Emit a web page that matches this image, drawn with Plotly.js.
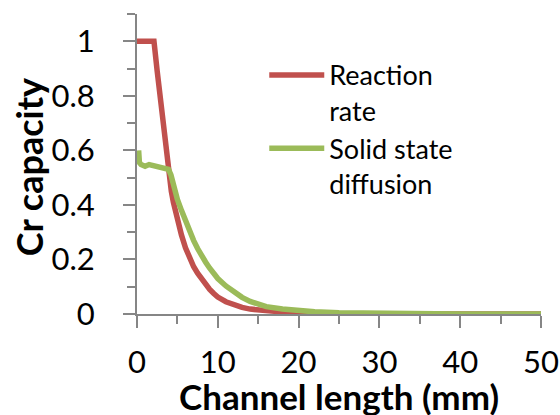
<!DOCTYPE html>
<html>
<head>
<meta charset="utf-8">
<script src="https://cdn.plot.ly/plotly-3.0.1.min.js"></script>
<style>html,body{margin:0;padding:0;background:#fff;}#chart{width:560px;height:415px;}</style>
</head>
<body>
<div id="chart"></div>
<script>
// Reaction rate series
const reactionX = [0, 1, 2.1, 2.5, 3, 3.5, 3.75, 4, 4.25, 4.5, 5, 5.5, 6, 6.5, 7, 7.5, 8, 8.5, 9, 9.5, 10, 11, 12, 13, 14, 16, 18, 20, 22, 25, 30, 35, 40, 45, 50];
const reactionY = [1, 1, 1, 0.89, 0.755, 0.625, 0.56, 0.5, 0.45, 0.41, 0.345, 0.29, 0.243, 0.204, 0.174, 0.15, 0.127, 0.107, 0.09, 0.075, 0.062, 0.045, 0.032, 0.024, 0.018, 0.011, 0.006, 0.002, 0.001, 0, 0, 0, 0, 0, 0];
// Solid state diffusion series
const diffusionX = [0.2, 0.3, 0.5, 1, 1.5, 2, 2.5, 3, 3.5, 3.9, 4.2, 4.4, 4.6, 4.8, 5, 5.5, 6, 6.5, 7, 7.5, 8, 8.5, 9, 9.5, 10, 11, 12, 13, 14, 15, 16, 18, 20, 22, 25, 28, 30, 35, 40, 45, 50];
const diffusionY = [0.6, 0.555, 0.548, 0.542, 0.548, 0.545, 0.54, 0.54, 0.537, 0.53, 0.51, 0.485, 0.462, 0.44, 0.42, 0.38, 0.34, 0.30, 0.27, 0.24, 0.212, 0.19, 0.168, 0.148, 0.13, 0.103, 0.08, 0.061, 0.046, 0.035, 0.027, 0.018, 0.012, 0.008, 0.005, 0.003, 0.002, 0.001, 0, 0, 0];
const seriesNames = ["Reaction<br>rate", "Solid state<br>diffusion"];
const xTitle = "Channel length (mm)";
const yTitle = "Cr capacity";

const FONT = "Lato, 'Open Sans', sans-serif";
const AXC = "#868686";

const traces = [
  {x: reactionX, y: reactionY, name: seriesNames[0], type: "scatter", mode: "lines",
   line: {color: "#C0504D", width: 5.5}},
  {x: diffusionX, y: diffusionY, name: seriesNames[1], type: "scatter", mode: "lines",
   line: {color: "#9BBB59", width: 5.5}}
];

const layout = {
  width: 560, height: 415,
  margin: {l: 137, r: 19, t: 14, b: 101, pad: 0},
  paper_bgcolor: "#fff", plot_bgcolor: "#fff",
  font: {family: FONT, color: "#000"},
  showlegend: true,
  legend: {x: 0.315, xanchor: "left", y: 0.877, yanchor: "top", bgcolor: "rgba(0,0,0,0)",
           font: {family: FONT, size: 27, color: "#000"}, valign: "top", itemwidth: 55, tracegroupgap: 0},
  xaxis: {
    range: [0, 50], dtick: 10, tick0: 0, showgrid: false, zeroline: false,
    showline: true, linecolor: AXC, linewidth: 2,
    ticks: "outside", ticklen: 12, tickwidth: 2, tickcolor: AXC,
    minor: {dtick: 5, ticks: "outside", ticklen: 8, tickwidth: 2, tickcolor: AXC, showgrid: false},
    tickfont: {family: FONT, size: 31, color: "#000"}, ticklabelstandoff: 8
  },
  yaxis: {
    range: [0, 1.1], dtick: 0.2, tick0: 0, showgrid: false, zeroline: false,
    showline: true, linecolor: AXC, linewidth: 2,
    ticks: "outside", ticklen: 12, tickwidth: 2, tickcolor: AXC,
    minor: {dtick: 0.1, ticks: "outside", ticklen: 8, tickwidth: 2, tickcolor: AXC, showgrid: false},
    tickfont: {family: FONT, size: 31, color: "#000"}, ticklabelstandoff: 22
  },
  annotations: [
    {text: yTitle, xref: "paper", yref: "paper", x: -0.268, y: 0.488, xanchor: "center", yanchor: "middle",
     textangle: -90, showarrow: false, font: {family: FONT, size: 36, weight: 700, color: "#000"}},
    {text: xTitle, xref: "paper", yref: "paper", x: 0.5, y: -0.273, xanchor: "center", yanchor: "middle",
     showarrow: false, font: {family: FONT, size: 35, weight: 700, color: "#000"}}
  ]
};

Plotly.newPlot("chart", traces, layout, {displayModeBar: false, staticPlot: true});
</script>
</body>
</html>
